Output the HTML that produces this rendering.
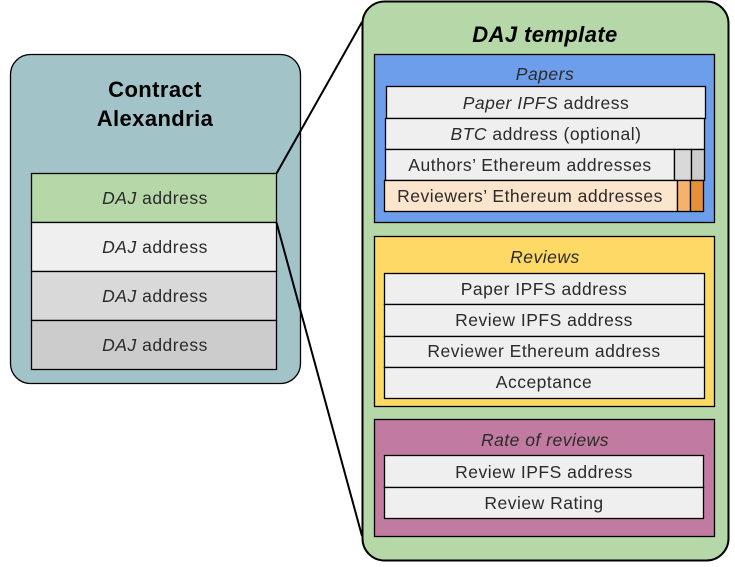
<!DOCTYPE html>
<html><head><style>html,body{margin:0;padding:0;background:#fff}svg{display:block}</style></head>
<body>
<svg width="735" height="567" viewBox="0 0 735 567" xmlns="http://www.w3.org/2000/svg" font-family="Liberation Sans, sans-serif" text-anchor="middle">
<g stroke="#000" stroke-width="1.3">
<rect x="10.5" y="54.5" width="290" height="329" rx="20" fill="#a2c4c9"/>
<rect x="31.5" y="173.5" width="245" height="49" fill="#b6d7a8"/>
<rect x="31.5" y="222.5" width="245" height="49" fill="#efefef"/>
<rect x="31.5" y="271.5" width="245" height="49" fill="#d9d9d9"/>
<rect x="31.5" y="320.5" width="245" height="49" fill="#cccccc"/>
<rect x="362.5" y="1.5" width="366" height="559" rx="22" fill="#b6d7a8" stroke-width="2"/>
<line x1="276.5" y1="173.5" x2="362" y2="22" stroke-width="2"/>
<line x1="276.5" y1="222.5" x2="362" y2="536" stroke-width="2"/>
<rect x="374.5" y="54.5" width="340" height="168" fill="#6d9eeb"/>
<rect x="386.5" y="86.5" width="319" height="32" fill="#efefef"/>
<rect x="385.5" y="118.5" width="319" height="31" fill="#efefef"/>
<rect x="385.5" y="149.5" width="289" height="31" fill="#efefef"/>
<rect x="674.5" y="149.5" width="17" height="31" fill="#d9d9d9"/>
<rect x="691.5" y="149.5" width="13" height="31" fill="#cccccc"/>
<rect x="384.5" y="180.5" width="293" height="31" fill="#fce5cd"/>
<rect x="677.5" y="180.5" width="13" height="31" fill="#f6b26b"/>
<rect x="690.5" y="180.5" width="13" height="31" fill="#e69138"/>
<rect x="374.5" y="236.5" width="340" height="170" fill="#ffd966"/>
<rect x="384.5" y="273.5" width="320" height="31" fill="#efefef"/>
<rect x="384.5" y="304.5" width="320" height="32" fill="#efefef"/>
<rect x="384.5" y="336.5" width="320" height="31" fill="#efefef"/>
<rect x="384.5" y="367.5" width="320" height="31" fill="#efefef"/>
<rect x="374.5" y="419.5" width="340" height="117" fill="#c27ba0"/>
<rect x="384.5" y="455.5" width="319" height="32" fill="#efefef"/>
<rect x="384.5" y="487.5" width="319" height="31" fill="#efefef"/>
</g>
<g fill="#000" font-weight="bold" font-size="22" letter-spacing="0.4">
<text x="155" y="97">Contract</text>
<text x="155" y="126">Alexandria</text>
<text x="545" y="42" font-style="italic">DAJ template</text>
</g>
<g fill="#2a2a2a" font-size="17.5" letter-spacing="0.5">
<text x="155" y="204"><tspan font-style="italic">DAJ</tspan> address</text>
<text x="155" y="253"><tspan font-style="italic">DAJ</tspan> address</text>
<text x="155" y="302"><tspan font-style="italic">DAJ</tspan> address</text>
<text x="155" y="351"><tspan font-style="italic">DAJ</tspan> address</text>
<text x="545" y="80" font-style="italic">Papers</text>
<text x="546" y="109"><tspan font-style="italic">Paper IPFS</tspan> address</text>
<text x="546" y="140"><tspan font-style="italic">BTC</tspan> address (optional)</text>
<text x="530" y="171">Authors’ Ethereum addresses</text>
<text x="530" y="202">Reviewers’ Ethereum addresses</text>
<text x="545" y="263" font-style="italic">Reviews</text>
<text x="544" y="295">Paper IPFS address</text>
<text x="544" y="326">Review IPFS address</text>
<text x="544" y="357">Reviewer Ethereum address</text>
<text x="544" y="388">Acceptance</text>
<text x="545" y="446" font-style="italic">Rate of reviews</text>
<text x="544" y="478">Review IPFS address</text>
<text x="544" y="509">Review Rating</text>
</g>
</svg>
</body></html>
